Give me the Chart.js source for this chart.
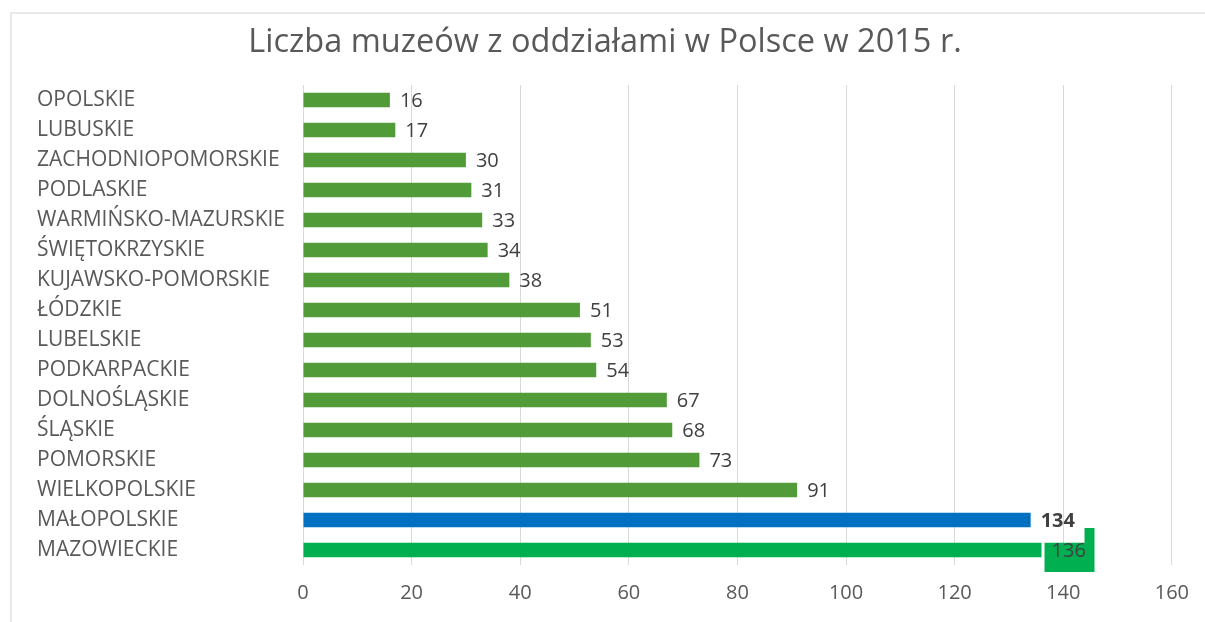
<!DOCTYPE html>
<html><head><meta charset="utf-8">
<script src="https://cdn.jsdelivr.net/npm/chart.js@4/dist/chart.umd.min.js"></script>
<style>
html,body{margin:0;padding:0;background:#fff;}
#wrap{position:relative;width:1205px;height:622px;}
#frame{position:absolute;left:10px;top:12px;right:-10px;bottom:-10px;border-top:2px solid #e9e9e9;border-left:2px solid #e9e9e9;pointer-events:none;}
</style>
</head><body>
<div id="wrap"><canvas id="chart"></canvas><div id="frame"></div></div>
<script>
const titleText = 'Liczba muzeów z oddziałami w Polsce w 2015 r.';
const categories = ['OPOLSKIE','LUBUSKIE','ZACHODNIOPOMORSKIE','PODLASKIE','WARMIŃSKO-MAZURSKIE','ŚWIĘTOKRZYSKIE','KUJAWSKO-POMORSKIE','ŁÓDZKIE','LUBELSKIE','PODKARPACKIE','DOLNOŚLĄSKIE','ŚLĄSKIE','POMORSKIE','WIELKOPOLSKIE','MAŁOPOLSKIE','MAZOWIECKIE'];
const museums = [16,17,30,31,33,34,38,51,53,54,67,68,73,91,134,136];
const xTicks = [0,20,40,60,80,100,120,140,160];

const GREEN = '#519b39', BLUE = '#0070c0', BRIGHT = '#00b050';
const barColors = categories.map((c,i)=> c==='MAŁOPOLSKIE' ? BLUE : (c==='MAZOWIECKIE' ? BRIGHT : GREEN));
const FONT = '"Open Sans", sans-serif';

const labelPlugin = {
  id:'valueLabels',
  afterDatasetsDraw(chart){
    const ctx = chart.ctx;
    const meta = chart.getDatasetMeta(0);
    meta.data.forEach((el,i)=>{
      const x0 = el.x, y0 = el.y, h = el.height;
      ctx.save();
      if(categories[i]==='MAZOWIECKIE'){
        const L = x0+3, R = x0+53, bt = y0 - h/2;
        ctx.fillStyle = BRIGHT;
        ctx.beginPath();
        ctx.moveTo(L,bt); ctx.lineTo(R-10,bt); ctx.lineTo(R-10,y0-22); ctx.lineTo(R,y0-22);
        ctx.lineTo(R,y0+22); ctx.lineTo(L,y0+22); ctx.closePath(); ctx.fill();
      }
      ctx.font = (categories[i]==='MAŁOPOLSKIE' ? 'bold ' : '') + '20px ' + FONT;
      ctx.fillStyle = '#404040';
      ctx.textAlign = 'left'; ctx.textBaseline = 'middle';
      ctx.fillText(String(museums[i]), x0+10, y0+1);
      ctx.restore();
    });
  }
};

new Chart(document.getElementById('chart'), {
  type:'bar',
  data:{
    labels: categories,
    datasets:[{ data: museums, backgroundColor: barColors, borderWidth:0, barPercentage:0.48, categoryPercentage:1 }]
  },
  options:{
    indexAxis:'y',
    responsive:true, maintainAspectRatio:false, animation:false,
    layout:{ padding:{ left:37, right:32, top:0, bottom:1 } },
    plugins:{
      legend:{ display:false }, tooltip:{ enabled:false },
      title:{ display:true, text:titleText, color:'#595959', font:{ family:FONT, size:32.5, weight:'normal' }, padding:{ top:23, bottom:23 } }
    },
    scales:{
      x:{
        min:0, max:160,
        afterBuildTicks(scale){ scale.ticks = xTicks.map(v=>({value:v})); },
        grid:{ color:'#d9d9d9', lineWidth:1, drawTicks:false },
        border:{ display:false },
        ticks:{ color:'#595959', font:{ family:FONT, size:20 }, padding:16 }
      },
      y:{
        grid:{ display:false }, border:{ display:false },
        ticks:{ color:'#595959', font:{ family:FONT, size:21 }, crossAlign:'far', padding:0, autoSkip:false },
        afterFit(scale){ scale.width = 266; }
      }
    }
  },
  plugins:[labelPlugin]
});
</script>
</body></html>
